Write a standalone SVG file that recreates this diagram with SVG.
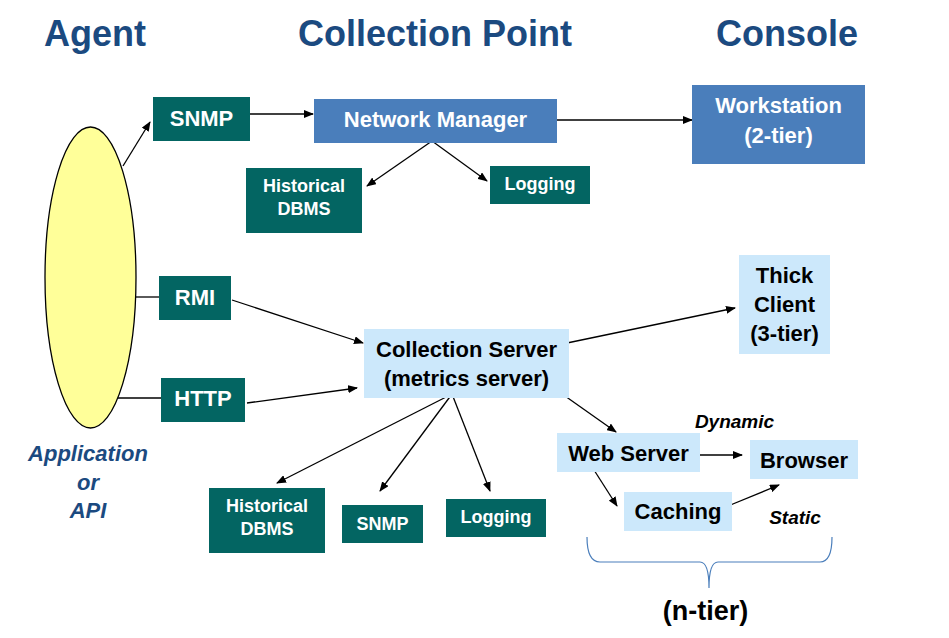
<svg xmlns="http://www.w3.org/2000/svg" width="949" height="638" viewBox="0 0 949 638">
<defs>
<marker id="ah" markerWidth="10" markerHeight="8" refX="9" refY="4" orient="auto" markerUnits="userSpaceOnUse">
<path d="M0,0 L10,4 L0,8 z" fill="#000"/>
</marker>
<style>
text{font-family:"Liberation Sans",Arial,sans-serif;font-weight:bold;text-anchor:middle}
.title{font-size:36px;fill:#1B4A80}
.teal{fill:#036562}
.blue{fill:#4A7EBB}
.light{fill:#CCE8FB}
.w{fill:#fff;font-size:22px}
.ws{fill:#fff;font-size:18px}
.k{fill:#000;font-size:22px}
.it{font-style:italic}
.conn line{stroke:#000;stroke-width:1.3;fill:none}
.arr{marker-end:url(#ah)}
</style>
</defs>
<rect width="949" height="638" fill="#fff"/>
<g id="titles">
<text class="title" x="95" y="46">Agent</text>
<text class="title" x="435" y="46">Collection Point</text>
<text class="title" x="787" y="46">Console</text>
</g>
<g id="connectors" class="conn">
<line class="arr" x1="123" y1="166" x2="150" y2="122"/>
<line x1="136" y1="297" x2="159" y2="297"/>
<line x1="118" y1="398" x2="161" y2="398"/>
<line class="arr" x1="248" y1="114" x2="313" y2="114"/>
<line class="arr" x1="557" y1="120" x2="692" y2="120"/>
<line class="arr" x1="432" y1="141" x2="367" y2="186"/>
<line class="arr" x1="432" y1="141" x2="487" y2="181"/>
<line class="arr" x1="232" y1="300" x2="363" y2="343"/>
<line class="arr" x1="247" y1="403" x2="357" y2="388"/>
<line class="arr" x1="567" y1="343" x2="735" y2="308"/>
<line class="arr" x1="452" y1="394" x2="277" y2="483"/>
<line class="arr" x1="452" y1="394" x2="380" y2="491"/>
<line class="arr" x1="452" y1="394" x2="490" y2="491"/>
<line class="arr" x1="565" y1="396" x2="616" y2="432"/>
<line class="arr" x1="698" y1="455" x2="742" y2="455"/>
<line class="arr" x1="594" y1="470" x2="617" y2="506"/>
<line class="arr" x1="728" y1="506" x2="779" y2="485"/>
</g>
<g id="agent">
<ellipse cx="90.5" cy="277.5" rx="45.5" ry="150.5" fill="#FFFF99" stroke="#000" stroke-width="1.3"/>
<text class="title it" style="font-size:22px" x="88" y="461">Application</text>
<text class="title it" style="font-size:22px" x="88" y="490">or</text>
<text class="title it" style="font-size:22px" x="88" y="518">API</text>
</g>
<g id="snmp-agent">
<rect class="teal" x="153" y="97" width="97" height="44"/>
<text class="w" x="201.5" y="126">SNMP</text>
</g>
<g id="rmi">
<rect class="teal" x="159" y="276" width="72" height="44"/>
<text class="w" x="195" y="305">RMI</text>
</g>
<g id="http">
<rect class="teal" x="161" y="378" width="84" height="44"/>
<text class="w" x="203" y="406">HTTP</text>
</g>
<g id="network-manager">
<rect class="blue" x="314" y="99" width="243" height="44"/>
<text class="w" x="435.5" y="127">Network Manager</text>
</g>
<g id="historical-dbms-top">
<rect class="teal" x="246" y="168" width="116" height="65"/>
<text class="ws" x="304" y="192">Historical</text>
<text class="ws" x="304" y="215">DBMS</text>
</g>
<g id="logging-top">
<rect class="teal" x="490" y="166" width="100" height="38"/>
<text class="ws" x="540" y="190">Logging</text>
</g>
<g id="workstation">
<rect class="blue" x="692" y="85" width="173" height="79"/>
<text class="w" x="778.5" y="113">Workstation</text>
<text class="w" x="778.5" y="143">(2-tier)</text>
</g>
<g id="collection-server">
<rect class="light" x="364" y="329" width="205" height="69"/>
<text class="k" x="466.5" y="357">Collection Server</text>
<text class="k" x="466.5" y="386">(metrics server)</text>
</g>
<g id="thick-client">
<rect class="light" x="739" y="255" width="91" height="99"/>
<text class="k" x="784.5" y="283">Thick</text>
<text class="k" x="784.5" y="312">Client</text>
<text class="k" x="784.5" y="341">(3-tier)</text>
</g>
<g id="historical-dbms-bottom">
<rect class="teal" x="209" y="488" width="116" height="65"/>
<text class="ws" x="267" y="512">Historical</text>
<text class="ws" x="267" y="535">DBMS</text>
</g>
<g id="snmp-bottom">
<rect class="teal" x="342" y="505" width="81" height="38"/>
<text class="ws" x="382.5" y="530">SNMP</text>
</g>
<g id="logging-bottom">
<rect class="teal" x="446" y="499" width="100" height="38"/>
<text class="ws" x="496" y="523">Logging</text>
</g>
<g id="web-server">
<rect class="light" x="557" y="433" width="143" height="39"/>
<text class="k" x="628.5" y="461">Web Server</text>
</g>
<g id="browser">
<rect class="light" x="750" y="440" width="108" height="39"/>
<text class="k" x="804" y="468">Browser</text>
</g>
<g id="caching">
<rect class="light" x="624" y="492" width="108" height="39"/>
<text class="k" x="678" y="519">Caching</text>
</g>
<g id="labels">
<text class="k it" style="font-size:19px" x="734.5" y="428">Dynamic</text>
<text class="k it" style="font-size:19px" x="795" y="524">Static</text>
</g>
<g id="n-tier">
<path d="M587,537 Q587,562 600,562 L700,562 Q709,562 709,588 Q709,562 718,562 L820,562 Q832,562 832,537" fill="none" stroke="#4A7EBB" stroke-width="1.2"/>
<text class="k" style="font-size:27px" x="705.5" y="620">(n-tier)</text>
</g>
</svg>
